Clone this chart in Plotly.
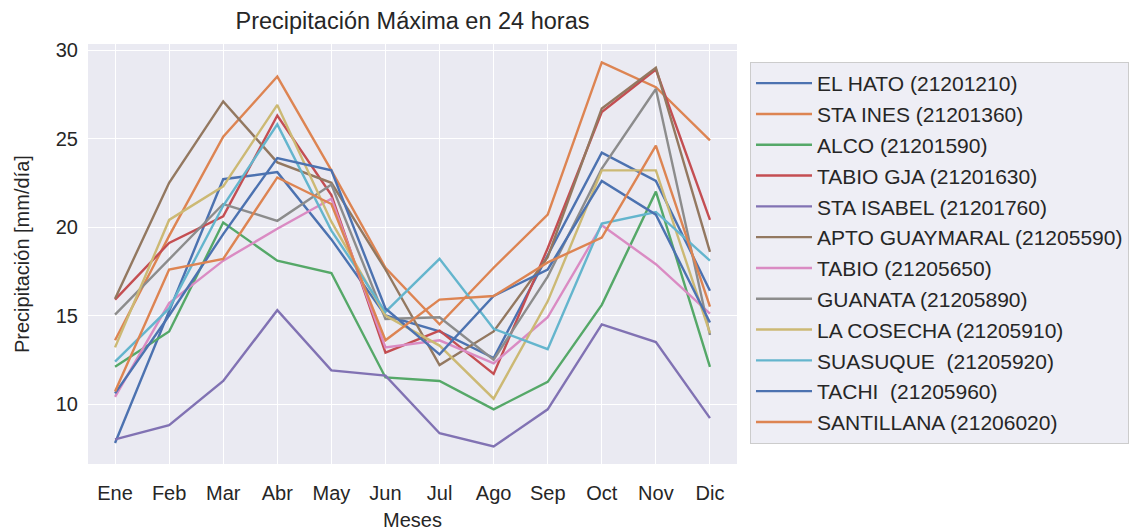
import plotly.graph_objects as go

months = ["Ene", "Feb", "Mar", "Abr", "May", "Jun", "Jul", "Ago", "Sep", "Oct", "Nov", "Dic"]

el_hato = [7.8, 15.3, 22.7, 23.1, 19.3, 15.0, 14.1, 12.6, 18.4, 24.2, 22.6, 16.4]
sta_ines = [13.6, 19.5, 25.1, 28.5, 23.2, 17.7, 14.5, 17.7, 20.7, 29.3, 27.9, 24.9]
alco = [12.1, 14.1, 20.25, 18.1, 17.4, 11.5, 11.3, 9.7, 11.25, 15.6, 22.0, 12.1]
tabio_gja = [15.9, 19.1, 20.6, 26.3, 21.8, 12.9, 14.15, 11.7, 18.8, 26.5, 28.9, 20.4]
sta_isabel = [8.0, 8.8, 11.3, 15.3, 11.9, 11.6, 8.35, 7.6, 9.7, 14.5, 13.5, 9.2]
apto_guaymaral = [15.95, 22.5, 27.1, 23.65, 22.5, 17.6, 12.2, 14.1, 18.3, 26.7, 29.0, 18.6]
tabio = [10.4, 15.7, 18.1, 19.9, 21.6, 13.2, 13.6, 12.3, 14.9, 20.1, 17.9, 15.1]
guanata = [15.05, 18.2, 21.3, 20.35, 22.4, 14.8, 14.9, 12.5, 17.2, 23.3, 27.8, 13.9]
la_cosecha = [13.2, 20.4, 22.3, 26.9, 20.3, 15.0, 13.3, 10.3, 15.8, 23.2, 23.2, 14.0]
suasuque = [12.4, 15.4, 21.2, 25.8, 19.8, 15.2, 18.2, 14.25, 13.1, 20.2, 20.85, 18.1]
tachi = [10.6, 15.0, 19.6, 23.9, 23.2, 15.4, 12.8, 16.1, 17.6, 22.6, 20.7, 14.6]
santillana = [10.7, 17.6, 18.2, 22.8, 21.3, 13.6, 15.9, 16.1, 18.0, 19.4, 24.6, 15.5]

names = ["EL HATO (21201210)", "STA INES (21201360)", "ALCO (21201590)",
         "TABIO GJA (21201630)", "STA ISABEL (21201760)", "APTO GUAYMARAL (21205590)",
         "TABIO (21205650)", "GUANATA (21205890)", "LA COSECHA (21205910)",
         "SUASUQUE  (21205920)", "TACHI  (21205960)", "SANTILLANA (21206020)"]
series = [el_hato, sta_ines, alco, tabio_gja, sta_isabel, apto_guaymaral,
          tabio, guanata, la_cosecha, suasuque, tachi, santillana]

palette = ["#4C72B0", "#DD8452", "#55A868", "#C44E52", "#8172B3",
           "#937860", "#DA8BC3", "#8C8C8C", "#CCB974", "#64B5CD"]

W, H = 1134, 531
L, R, T, B = 88, 737, 44, 464

fig = go.Figure()
for i, (nm, vals) in enumerate(zip(names, series)):
    fig.add_trace(go.Scatter(
        x=months, y=vals, mode="lines", name=nm,
        legendgroup=f"g{i}",
        line=dict(color=palette[i % 10], width=2.4),
    ))

font_family = "Liberation Sans, Arial, sans-serif"
fig.update_layout(
    width=W, height=H,
    margin=dict(l=L, r=W - R, t=T, b=H - B),
    paper_bgcolor="white",
    plot_bgcolor="#EAEAF2",
    font=dict(family=font_family, size=20, color="#262626"),
    title=dict(text="Precipitación Máxima en 24 horas", x=(L + R) / 2 / W,
               xanchor="center", y=1 - 21 / H, yanchor="middle",
               font=dict(size=23.5, color="#262626")),
    showlegend=True,
    legend=dict(
        xref="container", yref="container",
        x=750 / W, xanchor="left", y=1 - 62 / H, yanchor="top",
        bgcolor="rgba(234,234,242,0.8)", bordercolor="#CCCCCC", borderwidth=1,
        font=dict(size=21, color="#262626"),
        tracegroupgap=0.5, itemwidth=56, maxheight=440,
    ),
    annotations=[
        dict(text="Meses", xref="paper", yref="paper", x=0.5,
             y=-(520 - B) / (B - T), xanchor="center", yanchor="middle",
             showarrow=False, font=dict(size=20, color="#262626")),
        dict(text="Precipitación [mm/día]", xref="paper", yref="paper",
             x=-(L - 22) / (R - L), y=0.5, xanchor="center", yanchor="middle",
             textangle=-90, showarrow=False, font=dict(size=20, color="#262626")),
    ],
)
fig.update_xaxes(
    type="category", range=[-0.5, 11.5], automargin=False,
    showgrid=True, gridcolor="white", gridwidth=1.3,
    zeroline=False, showline=False, ticks="", ticklabelstandoff=15,
    tickfont=dict(size=20),
)
fig.update_yaxes(
    range=[6.61, 30.34], tickvals=[10, 15, 20, 25, 30], automargin=False,
    showgrid=True, gridcolor="white", gridwidth=1.3,
    zeroline=False, showline=False, ticks="", ticklabelstandoff=9,
    tickfont=dict(size=20),
)

fig.write_html("out.html", config={"displayModeBar": False},
               post_script="document.body.style.margin='0';document.body.style.overflow='hidden';")
